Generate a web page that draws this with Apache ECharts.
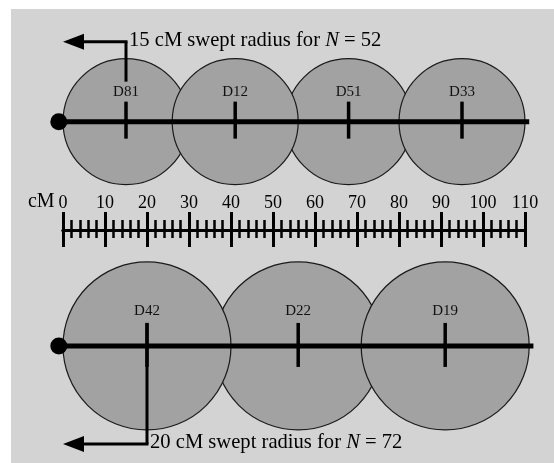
<!DOCTYPE html>
<html>
<head>
<meta charset="utf-8">
<script src="https://cdn.jsdelivr.net/npm/echarts@6/dist/echarts.min.js"></script>
<style>
html, body { margin: 0; padding: 0; background: #fff; }
#chart { width: 554px; height: 463px; }
</style>
</head>
<body>
<div id="chart"></div>
<script>
// marker positions along the chromosome, in cM
var topMarkers = ['D81', 'D12', 'D51', 'D33'];
var topPositions = [15, 41, 68, 95];
var topRadius = 15;
var topN = 52;
var topLength = 111;
var topDrawOrder = [0, 2, 1, 3];

var bottomMarkers = ['D42', 'D22', 'D19'];
var bottomPositions = [20, 56, 91];
var bottomRadius = 20;
var bottomN = 72;
var bottomLength = 112;
var bottomDrawOrder = [1, 0, 2];

var scaleMin = 0;
var scaleMax = 110;
var scaleStep = 10;

// vertical place of each row (same units as cM so circles stay round)
var topRowY = 25.8;
var bottomRowY = -27.6;

var serif = 'Liberation Serif';
var myChart = echarts.init(document.getElementById('chart'));

function circleData(pos, order, rowY, r) {
    return order.map(function (i) { return [pos[i], rowY, r]; });
}

function renderCircle(params, api) {
    var c = api.coord([api.value(0), api.value(1)]);
    var r = api.size([api.value(2), 0])[0];
    return {
        type: 'circle',
        shape: { cx: c[0], cy: c[1], r: r },
        style: { fill: '#a2a2a2', stroke: '#1a1a1a', lineWidth: 1.2 }
    };
}

function renderChromosome(params, api) {
    var a = api.coord([api.value(0), api.value(2)]);
    var b = api.coord([api.value(1), api.value(2)]);
    return {
        type: 'group',
        children: [
            { type: 'line', shape: { x1: a[0], y1: a[1], x2: b[0], y2: b[1] },
              style: { stroke: '#000', lineWidth: 5 } },
            { type: 'circle', shape: { cx: a[0], cy: a[1], r: 8.5 }, style: { fill: '#000' } }
        ]
    };
}

function tickRenderer(names, up, down, labelUp) {
    return function (params, api) {
        var c = api.coord([api.value(0), api.value(1)]);
        return {
            type: 'group',
            children: [
                { type: 'line', shape: { x1: c[0], y1: c[1] - up, x2: c[0], y2: c[1] + down },
                  style: { stroke: '#000', lineWidth: 3.5 } },
                { type: 'text', x: c[0], y: c[1] - labelUp,
                  style: { text: names[params.dataIndex], fill: '#111', font: '15px ' + serif,
                           textAlign: 'center', textVerticalAlign: 'middle' } }
            ]
        };
    };
}

function annotationRenderer(isTop) {
    return function (params, api) {
        var c = api.coord([api.value(0), api.value(1)]);
        var r = api.size([api.value(2), 0])[0];
        var x0 = api.coord([scaleMin, 0])[0];
        var ay, y1, y2;
        if (isTop) {
            ay = c[1] - r - 17;
            y1 = ay; y2 = c[1] - 40;
        } else {
            ay = c[1] + r + 14;
            y1 = c[1] - 23; y2 = ay;
        }
        var txt = '{t|' + api.value(2) + ' cM swept radius for }{n|N}{t| = ' + api.value(3) + '}';
        return {
            type: 'group',
            children: [
                { type: 'line', shape: { x1: c[0], y1: y1, x2: c[0], y2: y2 },
                  style: { stroke: '#000', lineWidth: 3 } },
                { type: 'line', shape: { x1: x0 + 18, y1: ay, x2: c[0] + 1.5, y2: ay },
                  style: { stroke: '#000', lineWidth: 3 } },
                { type: 'polygon', shape: { points: [[x0, ay], [x0 + 21, ay - 8], [x0 + 21, ay + 8]] },
                  style: { fill: '#000' } },
                { type: 'text', x: c[0] + 3, y: ay - 1,
                  style: {
                      text: txt, textAlign: 'left', textVerticalAlign: 'middle',
                      rich: {
                          t: { fontFamily: serif, fontSize: 20.6, fill: '#000' },
                          n: { fontFamily: serif, fontSize: 20.6, fontStyle: 'italic', fill: '#000' }
                      }
                  } }
            ]
        };
    };
}

// the grid ends at the cM ruler; both rows are placed relative to it
option = {
    backgroundColor: '#fff',
    animation: false,
    graphic: [
        { type: 'rect', left: 11, top: 9, z: -10,
          shape: { width: 543, height: 454 }, style: { fill: '#d3d3d3' } }
    ],
    grid: { left: 63, right: 29, top: 9, bottom: 233 },
    xAxis: [
        {
            type: 'value', min: scaleMin, max: scaleMax, interval: scaleStep, position: 'bottom',
            axisLine: { onZero: false, lineStyle: { color: '#000', width: 3 } },
            axisTick: { inside: false, length: 17, lineStyle: { color: '#000', width: 3 } },
            minorTick: { show: true, splitNumber: 5, length: 8, lineStyle: { color: '#000', width: 2.5 } },
            axisLabel: { show: false },
            splitLine: { show: false }
        },
        {
            type: 'value', min: scaleMin, max: scaleMax, interval: scaleStep, position: 'bottom',
            name: 'cM', nameLocation: 'start', nameGap: 8,
            nameTextStyle: { fontFamily: serif, fontSize: 20, color: '#000',
                             verticalAlign: 'bottom', padding: [0, 0, 18, 0] },
            axisLine: { onZero: false, lineStyle: { color: '#000', width: 3 } },
            axisTick: { inside: true, length: 18, lineStyle: { color: '#000', width: 3 } },
            minorTick: { show: true, splitNumber: 5, length: 10, lineStyle: { color: '#000', width: 2.5 } },
            axisLabel: { inside: true, margin: 18, fontFamily: serif, fontSize: 18, color: '#000' },
            splitLine: { show: false }
        }
    ],
    yAxis: { type: 'value', min: 0, max: 52.619, show: false },
    series: [
        { type: 'custom', z: 1, clip: false, renderItem: renderCircle,
          data: circleData(topPositions, topDrawOrder, topRowY, topRadius) },
        { type: 'custom', z: 1, clip: false, renderItem: renderCircle,
          data: circleData(bottomPositions, bottomDrawOrder, bottomRowY, bottomRadius) },
        { type: 'custom', z: 2, clip: false, renderItem: renderChromosome,
          data: [[-1, topLength, topRowY], [-1, bottomLength, bottomRowY]] },
        { type: 'custom', z: 3, clip: false, renderItem: tickRenderer(topMarkers, 20, 17, 30),
          data: topPositions.map(function (p) { return [p, topRowY]; }) },
        { type: 'custom', z: 3, clip: false, renderItem: tickRenderer(bottomMarkers, 23, 21, 35),
          data: bottomPositions.map(function (p) { return [p, bottomRowY]; }) },
        { type: 'custom', z: 4, clip: false, renderItem: annotationRenderer(true),
          data: [[topPositions[0], topRowY, topRadius, topN]] },
        { type: 'custom', z: 4, clip: false, renderItem: annotationRenderer(false),
          data: [[bottomPositions[0], bottomRowY, bottomRadius, bottomN]] }
    ]
};

option && myChart.setOption(option);
</script>
</body>
</html>
